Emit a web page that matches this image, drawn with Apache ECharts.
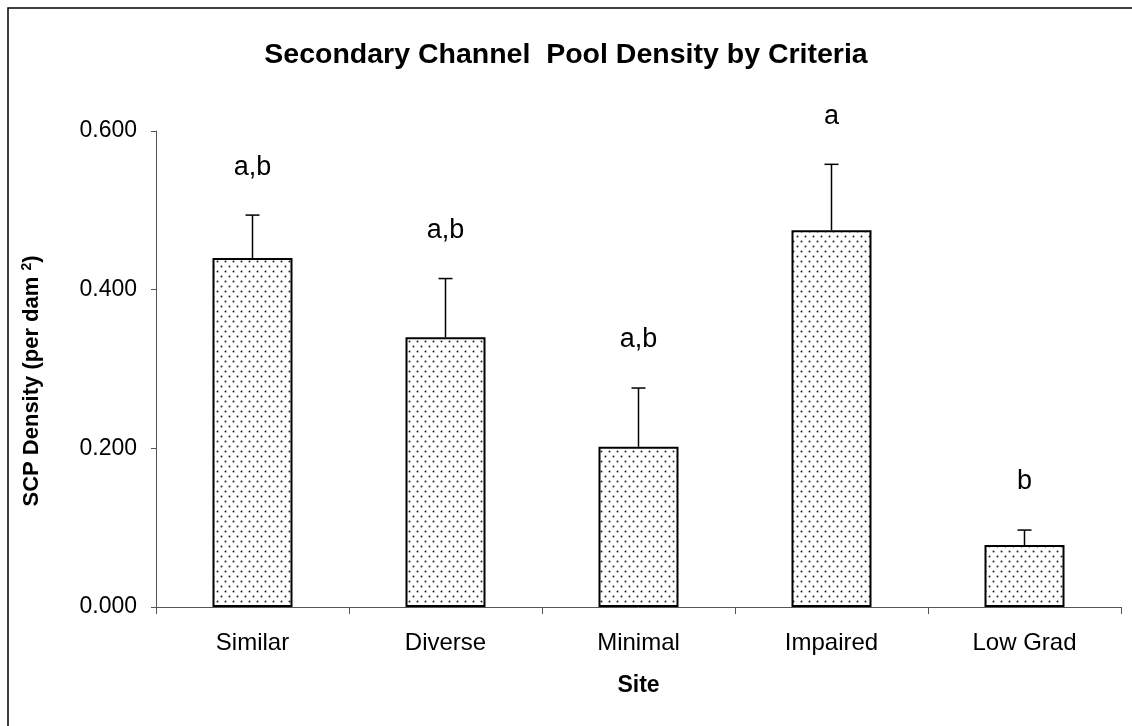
<!DOCTYPE html>
<html>
<head>
<meta charset="utf-8">
<script src="https://cdn.jsdelivr.net/npm/echarts@6/dist/echarts.min.js"></script>
<style>
  html, body { margin: 0; padding: 0; background: #fff; }
  #main { width: 1132px; height: 726px; }
</style>
</head>
<body>
<div id="main"></div>
<script>
var sites = ['Similar', 'Diverse', 'Minimal', 'Impaired', 'Low Grad'];
var density = [0.440, 0.340, 0.202, 0.475, 0.078];
var stdErr = [0.054, 0.074, 0.074, 0.083, 0.019];
var groups = ['a,b', 'a,b', 'a,b', 'a', 'b'];
var yTicks = [0, 0.2, 0.4, 0.6];

var font = 'Liberation Sans, Arial, sans-serif';

// dotted fill like the excel pattern
function dotPattern() {
    var c = document.createElement('canvas');
    c.width = 8;
    c.height = 10;
    var ctx = c.getContext('2d');
    ctx.fillStyle = '#fff';
    ctx.fillRect(0, 0, 8, 10);
    ctx.fillStyle = '#222';
    ctx.beginPath();
    ctx.arc(1.5, 1.5, 1, 0, Math.PI * 2);
    ctx.closePath();
    ctx.moveTo(6.5, 6.5);
    ctx.arc(5.5, 6.5, 1, 0, Math.PI * 2);
    ctx.fill();
    return c;
}

var errData = [];
for (var i = 0; i < sites.length; i++) {
    errData.push([i, density[i], density[i] + stdErr[i], groups[i]]);
}

var myChart = echarts.init(document.getElementById('main'));
var option = {
    animation: false,
    backgroundColor: '#fff',
    title: {
        text: 'Secondary Channel  Pool Density by Criteria',
        left: 'center',
        top: 36,
        textStyle: { fontFamily: font, fontSize: 28.5, fontWeight: 'bold', color: '#000' }
    },
    graphic: [{
        type: 'rect',
        shape: { x: 8, y: 8, width: 1200, height: 800 },
        style: { fill: 'none', stroke: '#000', lineWidth: 1.5 },
        silent: true,
        z: -10
    }],
    grid: { left: 156, right: 11, top: 131, bottom: 119 },
    xAxis: {
        type: 'category',
        data: sites,
        name: 'Site',
        nameLocation: 'middle',
        nameGap: 67,
        nameTextStyle: { fontFamily: font, fontSize: 23, fontWeight: 'bold', color: '#000' },
        axisLine: { lineStyle: { color: '#555', width: 1 } },
        axisTick: { show: true, interval: 0, length: 7, lineStyle: { color: '#555' } },
        axisLabel: { fontFamily: font, fontSize: 24, color: '#000', margin: 24, interval: 0 }
    },
    yAxis: {
        type: 'value',
        min: yTicks[0],
        max: yTicks[yTicks.length - 1],
        interval: 0.2,
        name: '{b|SCP Density (per dam }{s|2}{b|)}',
        nameLocation: 'middle',
        nameGap: 112,
        nameTextStyle: {
            fontFamily: font, fontSize: 22, fontWeight: 'bold', color: '#000',
            padding: [0, 24, 0, 0],
            rich: {
                b: { fontFamily: font, fontSize: 22, fontWeight: 'bold', color: '#000' },
                s: { fontFamily: font, fontSize: 14, fontWeight: 'bold', color: '#000', padding: [0, 0, 10, 0] }
            }
        },
        splitLine: { show: false },
        axisLine: { show: true, lineStyle: { color: '#555', width: 1 } },
        axisTick: { show: true, length: 5, lineStyle: { color: '#555' } },
        axisLabel: {
            fontFamily: font, fontSize: 23, color: '#000', margin: 19,
            formatter: function (v) { return v.toFixed(3); }
        }
    },
    series: [{
        type: 'bar',
        data: density,
        barWidth: 80,
        itemStyle: {
            color: { image: dotPattern(), repeat: 'repeat' },
            borderColor: '#000',
            borderWidth: 2
        },
        z: 2
    }, {
        type: 'custom',
        data: errData,
        z: 1,
        renderItem: function (params, api) {
            var base = api.coord([api.value(0), api.value(1)]);
            var top = api.coord([api.value(0), api.value(2)]);
            var half = 7;
            return {
                type: 'group',
                children: [{
                    type: 'line',
                    shape: { x1: top[0], y1: base[1], x2: top[0], y2: top[1] },
                    style: { stroke: '#000', lineWidth: 1.5 }
                }, {
                    type: 'line',
                    shape: { x1: top[0] - half, y1: top[1], x2: top[0] + half, y2: top[1] },
                    style: { stroke: '#000', lineWidth: 1.5 }
                }, {
                    type: 'text',
                    style: {
                        text: errData[params.dataIndex][3],
                        x: top[0],
                        y: top[1] - 48,
                        align: 'center',
                        verticalAlign: 'middle',
                        font: '27px ' + font,
                        fill: '#000'
                    }
                }]
            };
        }
    }]
};
myChart.setOption(option);
</script>
</body>
</html>
